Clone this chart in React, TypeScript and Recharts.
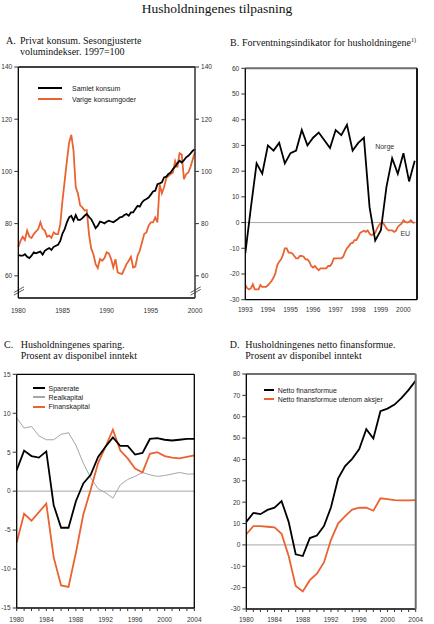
import { LineChart, Line, XAxis, YAxis, ReferenceLine, ReferenceDot, Legend, Label } from 'recharts'

const SANS = '"Liberation Sans", Arial, sans-serif'
const SERIF = '"Liberation Serif", "Times New Roman", serif'
const ORANGE = '#EA6330'
const GREY = '#a6a6a6'

// A. Privat konsum, kvartal 1980-2000
const samletKonsum = [
  67.9, 67.7, 67.7, 68.3, 67.3, 66.8, 67.7, 69, 68.6, 69, 69.3, 68.1, 69.6, 70.2, 70.6, 69.9,
  71.1, 71.5, 71.9, 73.4, 76.2, 77.9, 80.5, 82.4, 83, 81.1, 83.3, 81.4, 81.4, 82.1, 83, 83.7,
  82.6, 81.7, 80.1, 78.3, 79.2, 80.8, 80.5, 80.1, 80.7, 81.1, 80.8, 80.5, 81.1, 81.7, 82.4, 82.6,
  83.3, 83.7, 83, 84.3, 84.3, 85.6, 86.8, 86.5, 88.1, 89, 89.4, 90, 91.1, 92.3, 92.6, 95.1,
  95.4, 95.8, 97.7, 98, 99, 99.6, 100.9, 101.8, 103.1, 104.1, 103.4, 104.3, 105.4, 106, 106.9, 107.9,
  108.5,
]
const varigeKonsumgoder = [
  71, 73.4, 75, 73.7, 77.3, 75, 74.5, 76, 77, 77.8, 80.5, 78, 77.3, 75, 75.4, 74.5,
  76.6, 76, 76, 79.8, 88.8, 96.4, 104, 111, 114, 108, 94, 91.5, 87, 86.2, 85, 85.2,
  76, 70.5, 68.3, 64.5, 63, 66.4, 65.8, 66.8, 69, 68.6, 66.5, 63.2, 66.4, 61.3, 60.9, 60.7,
  62.6, 64.5, 65.8, 67.3, 63.2, 63.5, 67.7, 69.6, 72.8, 76, 76.6, 79.2, 80.5, 80.5, 82.4, 80.5,
  95, 91.6, 93.9, 97.4, 98.3, 99, 99.6, 104, 101.5, 107, 106.5, 97, 99, 99.6, 101.8, 104.7,
  107.5,
]
const aYTicks = [60, 80, 100, 120, 140]
const aXTicks = [1980, 1985, 1990, 1995, 2000]

// B. Forventningsindikator
const norge = [
  -12, 6, 23, 19, 30, 28, 31, 23, 27, 28, 36, 30, 33, 35, 32, 29,
  36, 34, 38, 28, 31, 33, 6, -7, -3, 14, 25, 19, 27, 16, 24,
]
const eu = [
  -24.3, -25.5, -26, -25.5, -24, -26, -26, -26, -24.3, -25, -25, -25,
  -24.4, -23.6, -22.6, -21.4, -19.7, -16.5, -15.2, -14.3, -12.6, -10, -10, -11.7,
  -11.7, -12, -13, -13.9, -13.9, -13, -13, -13.3, -14.3, -14.3, -15.2, -16.9,
  -17.5, -16.9, -17.8, -18.5, -17.8, -17.8, -17.8, -17.8, -16.9, -16.9, -15.9, -13.9,
  -13.9, -13.9, -13.9, -13.9, -13.3, -11.4, -10, -9.2, -8.1, -7.9, -6.8, -6.8,
  -5.5, -4, -3.6, -3.2, -3.6, -3, -4.3, -4.9, -4.5, -4, -2.3, -1,
  -0.1, 0, -1, -2.3, -3, -3, -3, -3.6, -3.2, -1.7, -1, -0.4,
  0.9, 0.3, 0, 0.3, 0.9, 0, 0,
]
const bYTicks = [-30, -20, -10, 0, 10, 20, 30, 40, 50, 60]
const bXTicks = [1993, 1994, 1995, 1996, 1997, 1998, 1999, 2000]

// C. Sparing, årlig 1980-2004
const sparerate = [2.7, 5.2, 4.5, 4.3, 5.1, -1.8, -4.7, -4.7, -1.3, 1.0, 2.1, 4.4, 5.7, 6.9, 5.8, 5.8, 4.7, 4.9, 6.7, 6.8, 6.6, 6.5, 6.6, 6.7, 6.7]
const realkapital = [9.4, 8.1, 8.3, 7.1, 6.6, 6.6, 7.3, 7.5, 5.9, 3.6, 1.7, 0.3, -0.2, -0.9, 0.8, 1.5, 1.9, 2.4, 2.1, 1.9, 2.0, 2.2, 2.4, 2.2, 2.2]
const finanskapital = [-6.6, -2.9, -3.8, -2.7, -1.6, -8.5, -12.1, -12.3, -7.9, -3.0, 0.2, 3.6, 5.7, 7.9, 5.2, 4.2, 2.9, 2.4, 4.8, 5.0, 4.5, 4.3, 4.2, 4.4, 4.6]
const cYTicks = [-15, -10, -5, 0, 5, 10, 15]

// D. Netto finansformue
const nettoFinansformue = [10.8, 15.0, 14.4, 16.4, 17.4, 20.5, 10.8, -4.4, -5.2, 3.2, 4.4, 8.8, 17.6, 31, 36.9, 40.3, 44.9, 54.2, 49.8, 62.6, 63.8, 65.7, 68.8, 72.6, 76.9]
const utenomAksjer = [5.0, 8.8, 8.8, 8.5, 8.2, 5.2, -5.2, -19.2, -21.8, -16.5, -13.5, -8.2, 2.4, 10, 13.5, 16.5, 17.4, 17.4, 16, 21.8, 21.4, 21, 20.8, 20.8, 21]
const dYTicks = [-30, -20, -10, 0, 10, 20, 30, 40, 50, 60, 70, 80]

const years = Array.from({ length: 25 }, (_, i) => 1980 + i)

const dataA = samletKonsum.map((v, i) => ({ t: 1980 + i / 4, samlet: v, varige: varigeKonsumgoder[i] }))
const dataNorge = norge.map((v, i) => ({ t: 1993 + i / 4, v }))
const dataEu = eu.map((v, i) => ({ t: 1993 + i / 12, v }))
const dataC = years.map((t, i) => ({ t, spar: sparerate[i], real: realkapital[i], finans: finanskapital[i] }))
const dataD = years.map((t, i) => ({ t, netto: nettoFinansformue[i], uten: utenomAksjer[i] }))

const tick = { fontSize: 6.6, fill: '#333', fontFamily: SANS }
const blackAxis = { stroke: '#000', strokeWidth: 1.3 }
const greyAxis = { stroke: '#6e6e6e', strokeWidth: 2 }

function LineLegend({ payload, order, swatch, gap, row, size }: any) {
  const items = [...(payload || [])].sort((a: any, b: any) => order.indexOf(a.value) - order.indexOf(b.value))
  return (
    <div style={{ fontFamily: SANS, fontSize: size, color: '#222' }}>
      {items.map((it: any) => (
        <div key={it.value} style={{ display: 'flex', alignItems: 'center', height: row, whiteSpace: 'nowrap' }}>
          <span style={{ display: 'inline-block', width: swatch, height: 2, background: it.color, marginRight: gap }} />
          {it.value}
        </div>
      ))}
    </div>
  )
}

const yearLabel4 = (v: number) => (v % 4 === 0 ? String(v) : '')

export default function App() {
  return (
    <div style={{ position: 'absolute', left: 0, top: 0, width: 434, height: 624, background: '#fff', overflow: 'hidden' }}>
      <svg width={434} height={624} style={{ position: 'absolute', left: 0, top: 0 }}>
        <g fontFamily={SERIF} fill="#111" fontSize={10}>
          <text x={217} y={13} fontSize={13.5} textAnchor="middle">Husholdningenes tilpasning</text>
          <text x={6} y={44.3}>A.</text>
          <text x={20} y={44.3}>Privat konsum. Sesongjusterte</text>
          <text x={20} y={55}>volumindekser. 1997=100</text>
          <text x={230} y={46}>B.</text>
          <text x={242} y={46}>
            Forventningsindikator for husholdningene
            <tspan fontSize={6} dy={-4}>1)</tspan>
          </text>
          <text x={4} y={347.7}>C.</text>
          <text x={20.7} y={347.7}>Husholdningenes sparing.</text>
          <text x={20.7} y={359.3}>Prosent av disponibel inntekt</text>
          <text x={229.7} y={348.3}>D.</text>
          <text x={245.3} y={348.3}>Husholdningenes netto finansformue.</text>
          <text x={245.3} y={359.3}>Prosent av disponibel inntekt</text>
        </g>
      </svg>

      {/* A */}
      <div style={{ position: 'absolute', left: 0, top: 60 }}>
        <LineChart width={217} height={258} data={dataA} margin={{ top: 7, right: 0, bottom: 0, left: 0 }}>
          <XAxis dataKey="t" type="number" domain={[1980, 2000]} ticks={aXTicks} interval={0} tick={tick}
            tickLine={false} tickSize={0} tickMargin={10} height={20} axisLine={blackAxis} />
          <YAxis yAxisId="l" width={18.3} domain={[51.5, 140]} ticks={aYTicks} interval={0} tick={tick}
            tickSize={4} tickMargin={2} axisLine={blackAxis} tickLine={{ stroke: '#333' }} allowDataOverflow />
          <YAxis yAxisId="r" orientation="right" width={22} domain={[51.5, 140]} ticks={aYTicks} interval={0} tick={tick}
            tickSize={4} tickMargin={2} axisLine={{ stroke: '#333', strokeWidth: 1.5 }} tickLine={{ stroke: '#333' }} allowDataOverflow />
          <ReferenceLine yAxisId="l" y={140} stroke="#000" strokeWidth={1.3} />
          <ReferenceLine yAxisId="l" ifOverflow="visible" stroke="#333" strokeWidth={0.8}
            segment={[{ x: 1979.5, y: 53.6 }, { x: 1980.65, y: 55.8 }]} />
          <ReferenceLine yAxisId="l" ifOverflow="visible" stroke="#333" strokeWidth={0.8}
            segment={[{ x: 1979.5, y: 52.6 }, { x: 1980.65, y: 54.8 }]} />
          <ReferenceLine yAxisId="l" ifOverflow="visible" stroke="#333" strokeWidth={0.8}
            segment={[{ x: 1999.5, y: 53.6 }, { x: 2000.65, y: 55.8 }]} />
          <ReferenceLine yAxisId="l" ifOverflow="visible" stroke="#333" strokeWidth={0.8}
            segment={[{ x: 1999.5, y: 52.6 }, { x: 2000.65, y: 54.8 }]} />
          <Line yAxisId="l" dataKey="varige" name="Varige konsumgoder" stroke={ORANGE} strokeWidth={1.8} dot={false} isAnimationActive={false} />
          <Line yAxisId="l" dataKey="samlet" name="Samlet konsum" stroke="#000" strokeWidth={1.8} dot={false} isAnimationActive={false} />
          <Legend layout="vertical" align="center" verticalAlign="middle"
            wrapperStyle={{ top: 22.8, left: 38, width: 'auto' }}
            content={(p: any) => <LineLegend {...p} order={['Samlet konsum', 'Varige konsumgoder']} swatch={24} gap={10} row={11} size={7} />} />
        </LineChart>
      </div>

      {/* B */}
      <div style={{ position: 'absolute', left: 217, top: 60 }}>
        <LineChart width={217} height={256} margin={{ top: 8.3, right: 0, bottom: 0, left: 0 }}>
          <XAxis dataKey="t" type="number" domain={[1993, 2000.6]} ticks={bXTicks} interval={0} tick={tick}
            tickLine={false} tickSize={0} tickMargin={8} height={16.3} axisLine={blackAxis} allowDataOverflow />
          <YAxis yAxisId="l" width={28.3} domain={[-30, 60]} ticks={bYTicks} interval={0} tick={tick}
            tickSize={4} tickMargin={2} axisLine={blackAxis} tickLine={{ stroke: '#333' }} />
          <YAxis yAxisId="r" orientation="right" width={17} domain={[-30, 60]} ticks={bYTicks} interval={0} tick={tick}
            tickSize={4} tickMargin={2} axisLine={{ stroke: '#000', strokeWidth: 1.8 }} tickLine={{ stroke: '#333' }} />
          <ReferenceLine yAxisId="l" y={60} stroke="#6e6e6e" strokeWidth={2} />
          <ReferenceLine yAxisId="l" y={0} stroke={GREY} strokeWidth={1} />
          <Line yAxisId="l" data={dataEu} dataKey="v" name="EU" stroke={ORANGE} strokeWidth={1.8} dot={false} isAnimationActive={false} />
          <Line yAxisId="l" data={dataNorge} dataKey="v" name="Norge" stroke="#000" strokeWidth={1.8} dot={false} isAnimationActive={false} />
          <ReferenceDot yAxisId="l" x={1999.17} y={29.5} r={0} ifOverflow="visible">
            <Label value="Norge" position="center" fontSize={7} fill="#333" fontFamily={SANS} />
          </ReferenceDot>
          <ReferenceDot yAxisId="l" x={2000.08} y={-4.3} r={0} ifOverflow="visible">
            <Label value="EU" position="center" fontSize={7} fill="#333" fontFamily={SANS} />
          </ReferenceDot>
        </LineChart>
      </div>

      {/* C */}
      <div style={{ position: 'absolute', left: 0, top: 364 }}>
        <LineChart width={217} height={260} data={dataC} margin={{ top: 10.3, right: 0, bottom: 0, left: 0 }}>
          <XAxis dataKey="t" type="number" domain={[1980, 2004]} ticks={years} interval={0} tick={tick}
            tickFormatter={yearLabel4} tickSize={3} tickMargin={6} height={16} axisLine={blackAxis} tickLine={{ stroke: '#333' }} />
          <YAxis yAxisId="l" width={16.7} domain={[-15, 15]} ticks={cYTicks} interval={0} tick={tick}
            tickSize={4} tickMargin={2} axisLine={blackAxis} tickLine={{ stroke: '#333' }} />
          <YAxis yAxisId="r" orientation="right" width={22.7} domain={[-15, 15]} ticks={cYTicks} interval={0} tick={tick}
            tickSize={4} tickMargin={2} axisLine={blackAxis} tickLine={{ stroke: '#333' }} />
          <ReferenceLine yAxisId="l" y={15} stroke="#000" strokeWidth={1.3} />
          <ReferenceLine yAxisId="l" y={0} stroke={GREY} strokeWidth={1} />
          <Line yAxisId="l" dataKey="real" name="Realkapital" stroke={GREY} strokeWidth={1} dot={false} isAnimationActive={false} />
          <Line yAxisId="l" dataKey="finans" name="Finanskapital" stroke={ORANGE} strokeWidth={1.8} dot={false} isAnimationActive={false} />
          <Line yAxisId="l" dataKey="spar" name="Sparerate" stroke="#000" strokeWidth={1.8} dot={false} isAnimationActive={false} />
          <Legend layout="vertical" align="center" verticalAlign="middle"
            wrapperStyle={{ top: 19.7, left: 33, width: 'auto' }}
            content={(p: any) => <LineLegend {...p} order={['Sparerate', 'Realkapital', 'Finanskapital']} swatch={12} gap={3.5} row={9.2} size={7} />} />
        </LineChart>
      </div>

      {/* D */}
      <div style={{ position: 'absolute', left: 217, top: 364 }}>
        <LineChart width={217} height={260} data={dataD} margin={{ top: 10, right: 0, bottom: 0, left: 0 }}>
          <XAxis dataKey="t" type="number" domain={[1980, 2004]} ticks={years} interval={0} tick={tick}
            tickFormatter={yearLabel4} tickSize={3} tickMargin={5} height={15} axisLine={blackAxis} tickLine={{ stroke: '#333' }} />
          <YAxis yAxisId="l" width={29.3} domain={[-30, 80]} ticks={dYTicks} interval={0} tick={tick}
            tickSize={4} tickMargin={2} axisLine={blackAxis} tickLine={{ stroke: '#333' }} />
          <YAxis yAxisId="r" orientation="right" width={18.3} domain={[-30, 80]} ticks={dYTicks} interval={0} tick={tick}
            tickSize={4} tickMargin={2} axisLine={greyAxis} tickLine={{ stroke: '#333' }} />
          <ReferenceLine yAxisId="l" y={80} stroke="#6e6e6e" strokeWidth={2} />
          <ReferenceLine yAxisId="l" y={0} stroke={GREY} strokeWidth={1} />
          <Line yAxisId="l" dataKey="uten" name="Netto finansformue utenom aksjer" stroke={ORANGE} strokeWidth={1.8} dot={false} isAnimationActive={false} />
          <Line yAxisId="l" dataKey="netto" name="Netto finansformue" stroke="#000" strokeWidth={1.8} dot={false} isAnimationActive={false} />
          <Legend layout="vertical" align="center" verticalAlign="middle"
            wrapperStyle={{ top: 21.5, left: 46.7, width: 'auto' }}
            content={(p: any) => <LineLegend {...p} order={['Netto finansformue', 'Netto finansformue utenom aksjer']} swatch={10.6} gap={3.4} row={9} size={7} />} />
        </LineChart>
      </div>
    </div>
  )
}
